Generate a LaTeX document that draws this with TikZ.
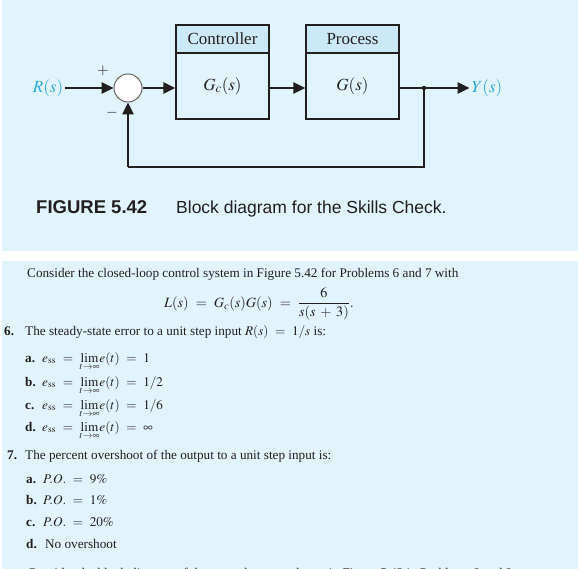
\documentclass[tikz,border=0pt]{standalone}
\usepackage{mathptmx}
\usepackage{fontspec}
\setmainfont{Liberation Serif}
\setsansfont{Liberation Sans}
\usetikzlibrary{arrows.meta}
\definecolor{panel}{HTML}{E1F3FB}
\definecolor{hdr}{HTML}{CBE9F7}
\definecolor{sigcol}{HTML}{2AA9E0}
\definecolor{ink}{HTML}{231F20}
\thickmuskip=9mu plus 2mu
\medmuskip=6mu plus 2mu
\begin{document}
\begin{tikzpicture}[x=1pt,y=-1pt,
  blockhead/.style={draw=ink,line width=1.4pt,fill=hdr,minimum width=93pt,minimum height=28pt,inner sep=0pt,font=\fontsize{17}{20}\selectfont,text=ink},
  blockbody/.style={draw=ink,line width=1.4pt,fill=panel,minimum width=93pt,minimum height=66pt,inner sep=0pt,font=\fontsize{17}{20}\selectfont,text=ink},
  sig/.style={draw=ink,line width=2.6pt,-{Triangle[length=12pt,width=11pt]}},
  wire/.style={draw=ink,line width=2.6pt},
  sumnode/.style={circle,draw=ink!70,line width=1pt,fill=white,minimum size=28pt,inner sep=0pt},
  iolabel/.style={text=sigcol,font=\fontsize{17}{20}\selectfont,inner sep=2pt},
  signlabel/.style={text=ink,font=\fontsize{15}{17}\selectfont,inner sep=0pt},
  body/.style={anchor=base west,inner sep=0pt,text=ink,font=\fontsize{13.2}{15}\selectfont},
  bigmath/.style={anchor=base west,inner sep=0pt,text=ink,font=\fontsize{14.2}{17}\selectfont},
  capbold/.style={anchor=base west,inner sep=0pt,text=ink,font=\sffamily\bfseries\fontsize{18.5}{22}\selectfont},
  capreg/.style={anchor=base west,inner sep=0pt,text=ink,font=\sffamily\fontsize{17.5}{22}\selectfont}
]
\useasboundingbox (0,0) rectangle (578,569);
\clip (0,0) rectangle (578,569);
\fill[white] (0,0) rectangle (578,569);
\fill[panel] (2,0) rectangle (578,251);
\fill[panel] (2,261) rectangle (578,580);

% block diagram
\node[sumnode] (sum) at (128,88) {};
\node[iolabel] (r) at (48,88) {$R(s)$};
\node[blockhead] (ch) at (222.5,39) {Controller};
\node[blockbody] (cb) at (222.5,86) {$G_c(s)$};
\node[blockhead] (ph) at (352.5,39) {Process};
\node[blockbody] (pb) at (352.5,86) {$G(s)$};
\node[iolabel] (y) at (487,88) {$Y(s)$};
\coordinate (br) at (424,88);
\coordinate (fbc) at (0,167);
\node[signlabel] (plus) at (103,71) {$+$};
\node[signlabel] (minus) at (112,113) {$-$};

\draw[sig] (r.east) -- (sum.west);
\draw[sig] (sum.east) -- (sum -| cb.west);
\draw[sig] (sum -| cb.east) -- (sum -| pb.west);
\draw[sig] (sum -| pb.east) -- (y.west);
\draw[wire] (br) -- (br |- fbc) -- (fbc -| sum);
\draw[sig] (fbc -| sum) -- (sum.south);
\fill[ink] (br) circle (2.2pt);

% caption
\node[capbold] (capa) at (36,214) {FIGURE 5.42};
\node[capreg] (capb) at (176,214) {Block diagram for the Skills Check.};

% text
\node[body] (t0) at (27,277) {Consider the closed-loop control system in Figure 5.42 for Problems 6 and 7 with};
\node[bigmath] (eq) at (164,307) {$L(s) = G_c(s)G(s) = {\displaystyle\frac{6}{s(s+3)}}.$};
\node[body] (q6) at (4,335) {\textbf{6.}};
\node[body] (q6t) at (25,335) {The steady-state error to a unit step input $R(s) = 1/s$ is:};
\node[body] (a6) at (25,362) {\makebox[17pt][l]{\textbf{a.}}$e_{\mathrm{ss}} = \lim\limits_{t\to\infty}\!e(t) = 1$};
\node[body] (b6) at (25,386) {\makebox[17pt][l]{\textbf{b.}}$e_{\mathrm{ss}} = \lim\limits_{t\to\infty}\!e(t) = 1/2$};
\node[body] (c6) at (25,409) {\makebox[17pt][l]{\textbf{c.}}$e_{\mathrm{ss}} = \lim\limits_{t\to\infty}\!e(t) = 1/6$};
\node[body] (d6) at (25,431) {\makebox[17pt][l]{\textbf{d.}}$e_{\mathrm{ss}} = \lim\limits_{t\to\infty}\!e(t) = \infty$};
\node[body] (q7) at (7,459) {\textbf{7.}};
\node[body] (q7t) at (25,459) {The percent overshoot of the output to a unit step input is:};
\node[body] (a7) at (26,483) {\makebox[17pt][l]{\textbf{a.}}$P.O. = 9\%$};
\node[body] (b7) at (26,504) {\makebox[17pt][l]{\textbf{b.}}$P.O. = 1\%$};
\node[body] (c7) at (26,526) {\makebox[17pt][l]{\textbf{c.}}$P.O. = 20\%$};
\node[body] (d7) at (26,548) {\makebox[19pt][l]{\textbf{d.}}No overshoot};
\node[body] (t1) at (27,577) {Consider the block diagram of the control system shown in Figure 5.42 in Problems 8 and 9};
\end{tikzpicture}
\end{document}
